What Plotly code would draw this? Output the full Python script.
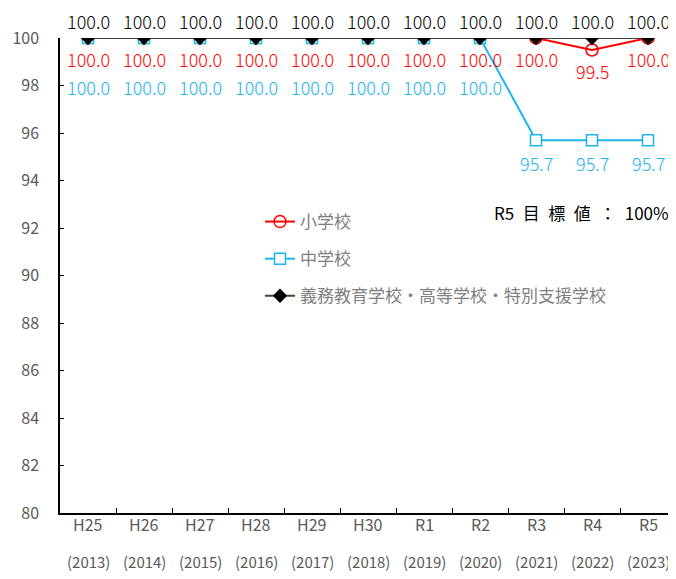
import plotly.graph_objects as go

codes = ["H25", "H26", "H27", "H28", "H29", "H30", "R1", "R2", "R3", "R4", "R5"]
years = ["(2013)", "(2014)", "(2015)", "(2016)", "(2017)", "(2018)", "(2019)", "(2020)", "(2021)", "(2022)", "(2023)"]
elem = [100.0, 100.0, 100.0, 100.0, 100.0, 100.0, 100.0, 100.0, 100.0, 99.5, 100.0]
junior = [100.0, 100.0, 100.0, 100.0, 100.0, 100.0, 100.0, 100.0, 95.7, 95.7, 95.7]
other = [100.0, 100.0, 100.0, 100.0, 100.0, 100.0, 100.0, 100.0, 100.0, 100.0, 100.0]
names = ["小学校", "中学校", "義務教育学校・高等学校・特別支援学校"]
target_text = "R5\u2002目\u2002標\u2002値\u2002：\u2002100%"

FONT = "Noto Sans CJK JP"
RED = "#FF0000"
BLUE = "#1CB5EE"
BLACK = "#000000"
GRAY = "#595959"

# page body has an 8px margin; figure is sized/offset to compensate
W, H = 668, 563
L, R, T, B = 52, 0, 30, 58
PW, PH = W - L - R, H - T - B  # 616 x 475

x = list(range(len(codes)))
fig = go.Figure()
fig.add_trace(go.Scatter(x=x, y=elem, name=names[0], mode="lines+markers", legendgroup="a",
                         line=dict(color=RED, width=2),
                         marker=dict(symbol="circle-open", size=12, color=RED, line=dict(width=1.5, color=RED))))
fig.add_trace(go.Scatter(x=x, y=junior, name=names[1], mode="lines+markers", legendgroup="b",
                         line=dict(color=BLUE, width=2),
                         marker=dict(symbol="square", size=11, color="white", line=dict(width=1.5, color=BLUE))))
fig.add_trace(go.Scatter(x=x, y=other, name=names[2], mode="lines+markers", legendgroup="c",
                         line=dict(color="#404040", width=2),
                         marker=dict(symbol="diamond", size=11, color=BLACK)))

NF = 18
ann = []
for i in x:
    ann.append(dict(x=i, y=other[i], text=f"{other[i]:.1f}", showarrow=False, yshift=17,
                    font=dict(family=FONT, size=NF, color=BLACK, weight=300)))
    ann.append(dict(x=i, y=elem[i], text=f"{elem[i]:.1f}", showarrow=False, yshift=-21,
                    font=dict(family=FONT, size=NF, color=RED, weight=300)))
    ys = -49 if junior[i] >= 99.9 else -23
    ann.append(dict(x=i, y=junior[i], text=f"{junior[i]:.1f}", showarrow=False, yshift=ys,
                    font=dict(family=FONT, size=NF, color=BLUE, weight=300)))
    ann.append(dict(x=i, y=0, yref="paper", yanchor="middle", text=codes[i], showarrow=False,
                    yshift=-11, font=dict(family=FONT, size=16, color=GRAY)))
    ann.append(dict(x=i, y=0, yref="paper", yanchor="middle", text=years[i], showarrow=False,
                    yshift=-48, font=dict(family=FONT, size=15, color=GRAY)))
ann.append(dict(x=(581 - 60) / PW, xref="paper", xanchor="center",
                y=(513 - 212) / PH, yref="paper", yanchor="middle",
                text=target_text, showarrow=False,
                font=dict(family=FONT, size=17, color=BLACK)))

fig.update_layout(
    width=W, height=H,
    margin=dict(l=L, r=R, t=T, b=B, autoexpand=False),
    paper_bgcolor="white", plot_bgcolor="white",
    showlegend=True,
    legend=dict(x=(260 - 60) / PW, y=(513 - 204) / PH, xanchor="left", yanchor="top",
                font=dict(family=FONT, size=17, color="#7F7F7F"), bgcolor="rgba(0,0,0,0)",
                tracegroupgap=12, itemwidth=30),
    annotations=ann,
    xaxis=dict(tickmode="array", tickvals=x, ticktext=codes, range=[-0.5, len(codes) - 0.5],
               showline=True, linecolor=BLACK, linewidth=1.5, showgrid=False, zeroline=False,
               ticks="", showticklabels=False, fixedrange=True, automargin=False),
    yaxis=dict(range=[80, 100], dtick=2, showline=True, linecolor=BLACK, linewidth=1.5,
               showgrid=False, zeroline=False, ticks="inside", ticklen=4, tickcolor=BLACK,
               tickfont=dict(family=FONT, size=16, color=GRAY), ticklabelstandoff=16,
               automargin=False, fixedrange=True),
)
fig.update_xaxes(minor=dict(tickmode="array", tickvals=[i + 0.5 for i in x[:-1]], ticks="inside",
                            ticklen=5, tickcolor=BLACK, showgrid=False))
fig.write_html("out.html")
